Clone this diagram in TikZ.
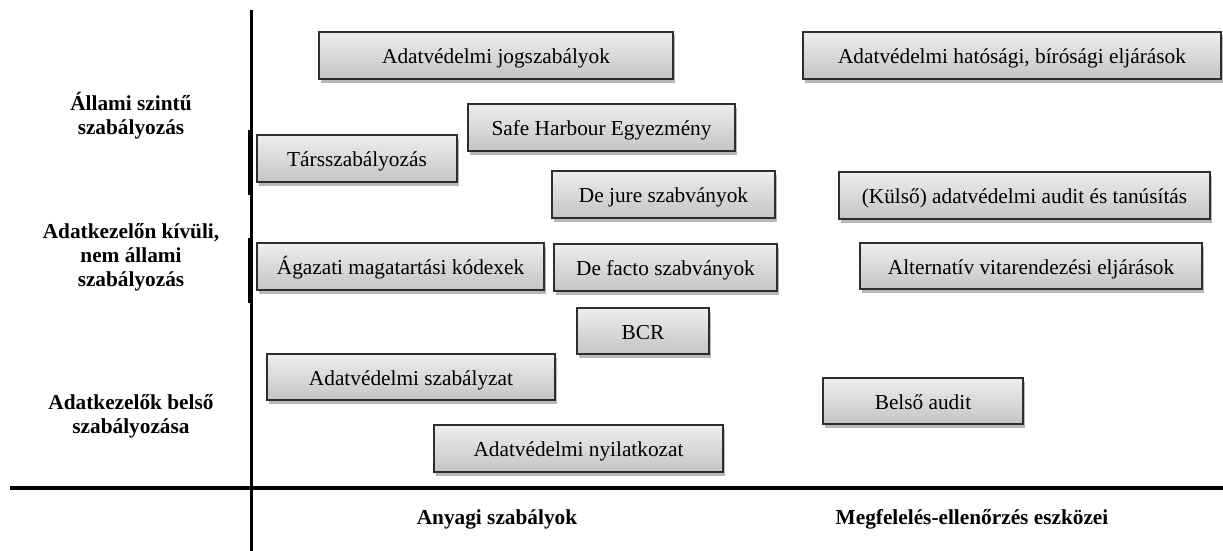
\documentclass[tikz,border=0pt]{standalone}
\usepackage{fontspec}
\setmainfont{Liberation Serif}
\usetikzlibrary{shadows}
\definecolor{boxtop}{HTML}{EEEEEE}
\definecolor{boxbot}{HTML}{C4C4C4}
\definecolor{boxline}{HTML}{2E2E2E}
\tikzset{
  bx/.style={draw=boxline, line width=1.3pt, top color=boxtop, bottom color=boxbot,
    inner sep=0pt, anchor=center, text height=16pt, text depth=0pt,
    drop shadow={shadow xshift=2pt, shadow yshift=-3.5pt, fill=black, opacity=0.28},
    font=\fontsize{21.3}{24.5}\selectfont},
  lab/.style={align=center, font=\fontsize{21.3}{24.2}\selectfont\bfseries, inner sep=0pt},
  axis/.style={line width=3.6pt, black},
  thinax/.style={line width=1.6pt, black}
}
% box macro: name, x1, y1, x2, y2, text
\newcommand{\mybox}[6]{%
  \pgfmathsetmacro{\bw}{#4-#2}\pgfmathsetmacro{\bh}{#5-#3}%
  \node[bx, minimum width=\bw pt, minimum height=\bh pt] (#1) at ({(#2+#4)/2},{(#3+#5)/2}) {#6};}
\begin{document}
\begin{tikzpicture}[x=1pt,y=-1pt]
\useasboundingbox (0,0) rectangle (1223,551);
% axes
\coordinate (vt) at (251.5,10);
\coordinate (vb) at (251.5,551);
\coordinate (hl) at (10,488);
\coordinate (hr) at (1223,488);
\draw[axis] (vt) -- (vb);
\draw[axis] (hl) -- (hr);
\coordinate (s1a) at (248.8,130);
\coordinate (s1b) at (248.8,195);
\coordinate (s2a) at (248.8,238);
\coordinate (s2b) at (248.8,303);
\draw[thinax] (s1a) -- (s1b);
\draw[thinax] (s2a) -- (s2b);
% boxes
\mybox{jog}{319}{32}{673}{79}{Adatvédelmi jogszabályok}
\mybox{hat}{803}{32}{1221}{79}{Adatvédelmi hatósági, bírósági eljárások}
\mybox{safe}{468}{104}{735}{151}{Safe Harbour Egyezmény}
\mybox{tars}{257}{135}{457}{182}{Társszabályozás}
\mybox{dejure}{552}{171}{775}{218}{De jure szabványok}
\mybox{kulso}{839}{172}{1210}{219}{(Külső) adatvédelmi audit és tanúsítás}
\mybox{agaz}{257}{243}{544}{290}{Ágazati magatartási kódexek}
\mybox{defacto}{554}{244}{777}{291}{De facto szabványok}
\mybox{alt}{860}{243}{1202}{289}{Alternatív vitarendezési eljárások}
\mybox{bcr}{577}{308}{709}{354}{BCR}
\mybox{szab}{267}{354}{555}{400}{Adatvédelmi szabályzat}
\mybox{belso}{823}{378}{1023}{424}{Belső audit}
\mybox{nyil}{434}{425}{723}{472}{Adatvédelmi nyilatkozat}
% row labels
\node[lab] (r1) at (131,116) {Állami szintű\\szabályozás};
\node[lab] (r2) at (131,257) {Adatkezelőn kívüli,\\nem állami\\szabályozás};
\node[lab] (r3) at (131,416) {Adatkezelők belső\\szabályozása};
% column labels
\node[lab] (c1) at (497,519) {Anyagi szabályok};
\node[lab] (c2) at (972,519) {Megfelelés-ellenőrzés eszközei};
\end{tikzpicture}
\end{document}
